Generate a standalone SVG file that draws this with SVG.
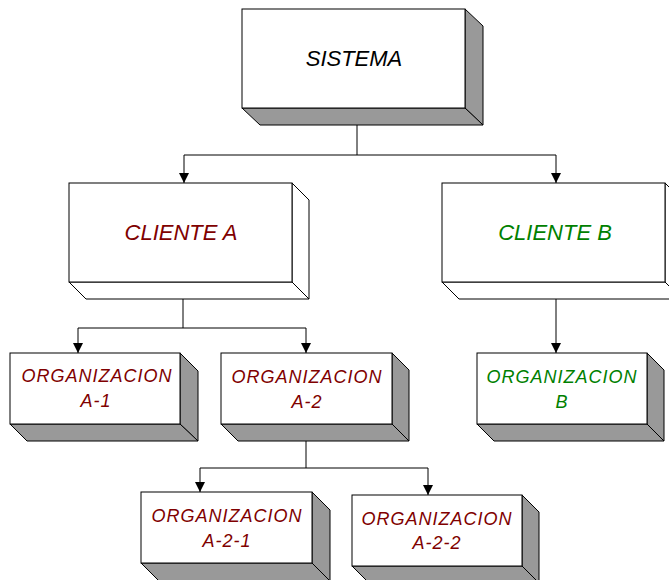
<svg xmlns="http://www.w3.org/2000/svg" width="669" height="580" viewBox="0 0 669 580">
<defs>
<style>
.front{fill:#ffffff;stroke:#000;stroke-width:1}
.shade{fill:#999999;stroke:#000;stroke-width:1;stroke-linejoin:miter}
.white{fill:#ffffff;stroke:#000;stroke-width:1}
.conn{fill:none;stroke:#000;stroke-width:1}
text{font-family:"Liberation Sans",Arial,sans-serif;font-style:italic;text-anchor:middle}
.big{font-size:22px}
.small{font-size:18px;letter-spacing:1px}
.red{fill:#800000}
.green{fill:#008000}
.black{fill:#000}
</style>
<marker id="arr" markerUnits="userSpaceOnUse" markerWidth="10" markerHeight="10" refX="10" refY="5" orient="auto" viewBox="0 0 10 10">
<path d="M0,0 L10,5 L0,10 z" fill="#000"/>
</marker>
</defs>
<g id="connectors">
<path class="conn" d="M357,125 V155 M184,155 H556"/>
<path class="conn" d="M184,155 V183" marker-end="url(#arr)"/>
<path class="conn" d="M556,155 V183" marker-end="url(#arr)"/>
<path class="conn" d="M183,299 V328 M78,328 H306"/>
<path class="conn" d="M78,328 V353" marker-end="url(#arr)"/>
<path class="conn" d="M306,328 V353" marker-end="url(#arr)"/>
<path class="conn" d="M556,299 V353" marker-end="url(#arr)"/>
<path class="conn" d="M306,441 V468 M200,468 H428"/>
<path class="conn" d="M200,468 V492" marker-end="url(#arr)"/>
<path class="conn" d="M428,468 V495" marker-end="url(#arr)"/>
</g>
<g id="sistema">
<polygon class="shade" points="465,9 483,26 483,125 465,108"/>
<polygon class="shade" points="242,108 465,108 483,125 260,125"/>
<rect class="front" x="242" y="9" width="223" height="99"/>
<text class="big black" x="354" y="66">SISTEMA</text>
</g>
<g id="cliente-a">
<polygon class="white" points="292,183 309,200 309,299 292,282"/>
<polygon class="white" points="69,282 292,282 309,299 86,299"/>
<rect class="front" x="69" y="183" width="223" height="99"/>
<text class="big red" x="181" y="240">CLIENTE A</text>
</g>
<g id="cliente-b">
<polygon class="white" points="665,183 682,200 682,299 665,282"/>
<polygon class="white" points="442,282 665,282 682,299 459,299"/>
<rect class="front" x="442" y="183" width="223" height="99"/>
<text class="big green" x="555" y="240">CLIENTE B</text>
</g>
<g id="org-a-1">
<polygon class="shade" points="180,353 198,371 198,441 180,424"/>
<polygon class="shade" points="10,424 180,424 198,441 27,441"/>
<rect class="front" x="10" y="353" width="170" height="71"/>
<text class="small red" x="97" y="382">ORGANIZACION</text>
<text class="small red" x="96" y="407">A-1</text>
</g>
<g id="org-a-2">
<polygon class="shade" points="392,353 409,370 409,441 392,424"/>
<polygon class="shade" points="221,424 392,424 409,441 238,441"/>
<rect class="front" x="221" y="353" width="171" height="71"/>
<text class="small red" x="307" y="383">ORGANIZACION</text>
<text class="small red" x="307" y="408">A-2</text>
</g>
<g id="org-b">
<polygon class="shade" points="647,353 664,370 664,441 647,424"/>
<polygon class="shade" points="477,424 647,424 664,441 494,441"/>
<rect class="front" x="477" y="353" width="170" height="71"/>
<text class="small green" x="562" y="383">ORGANIZACION</text>
<text class="small green" x="562" y="408">B</text>
</g>
<g id="org-a-2-1">
<polygon class="shade" points="312,492 330,510 330,581 312,563"/>
<polygon class="shade" points="141,563 312,563 330,581 159,581"/>
<rect class="front" x="141" y="492" width="171" height="71"/>
<text class="small red" x="227" y="522">ORGANIZACION</text>
<text class="small red" x="227" y="547">A-2-1</text>
</g>
<g id="org-a-2-2">
<polygon class="shade" points="522,495 539,512 539,583 522,566"/>
<polygon class="shade" points="352,566 522,566 539,583 369,583"/>
<rect class="front" x="352" y="495" width="170" height="71"/>
<text class="small red" x="437" y="525">ORGANIZACION</text>
<text class="small red" x="437" y="549">A-2-2</text>
</g>
</svg>
